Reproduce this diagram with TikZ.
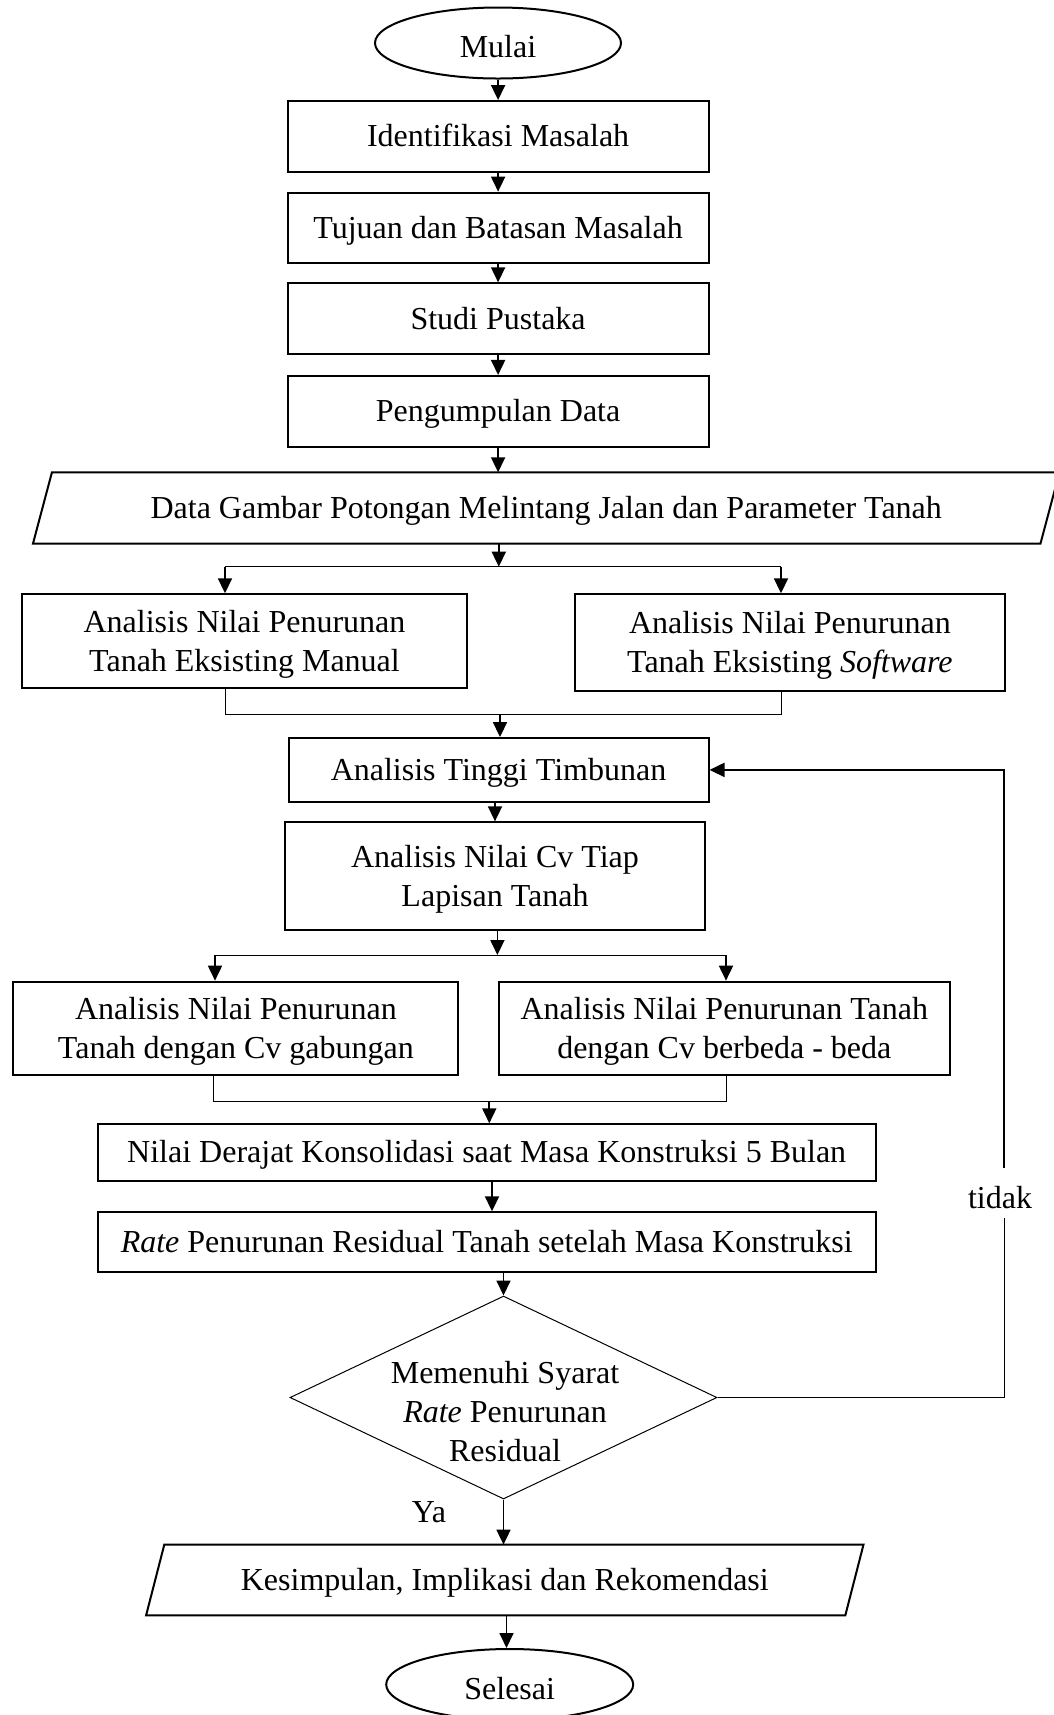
\documentclass[tikz,border=0pt]{standalone}
\usepackage{fontspec}
\setmainfont{Liberation Serif}
\usetikzlibrary{shapes.geometric,arrows.meta,calc}
\newcommand{\topst}{\rule{0pt}{13.8pt}}
\newcommand{\topel}{\rule{0pt}{18pt}}
\newcommand{\botst}{\rule[-3.5pt]{0pt}{3.5pt}}
\begin{document}
\begin{tikzpicture}[x=0.5pt,y=-0.5pt,
  font=\fontsize{16}{19.5}\selectfont,
  boxs/.style={draw, line width=1pt, rectangle, inner sep=0pt, align=center},
  para/.style={rectangle, inner sep=0pt, align=center},
  term/.style={draw, line width=1pt, ellipse, inner sep=0pt},
  decis/.style={draw, line width=0.5pt, diamond, inner sep=0pt},
  arr/.style={line width=0.9pt, -{Triangle[length=7.5pt,width=7pt]}},
  thinl/.style={line width=0.5pt},
  plline/.style={line width=1pt, line join=miter}
]
\useasboundingbox (0,0) rectangle (1054,1715);

% top chain
\node[term, minimum width=123pt, minimum height=35.5pt] (mulai) at (498,43) {\topel Mulai\botst};
\node[boxs, minimum width=210.4pt, minimum height=35.35pt] (id) at (498.1,136.4) {\topst Identifikasi Masalah\botst};
\node[boxs, minimum width=210.4pt, minimum height=35.35pt] (tuj) at (498.1,228) {\topst Tujuan dan Batasan Masalah\botst};
\node[boxs, minimum width=210.4pt, minimum height=35.35pt] (studi) at (498.1,318.7) {\topst Studi Pustaka\botst};
\node[boxs, minimum width=210.4pt, minimum height=35.35pt] (kump) at (498.1,411.3) {\topst Pengumpulan Data\botst};

\draw[arr] (mulai.south -| id.north) -- (id.north);
\draw[arr] (id.south) -- (tuj.north);
\draw[arr] (tuj.south) -- (studi.north);
\draw[arr] (studi.south) -- (kump.north);

% data parallelogram
\node[para, minimum width=503.35pt, minimum height=35.3pt] (data) at (546.2,508) {\topst Data Gambar Potongan Melintang Jalan dan Parameter Tanah\botst};
\draw[plline] ($(data.south west)+(-9.5,0)$) -- ($(data.north west)+(9.5,0)$) -- ($(data.north east)+(9.5,0)$) -- ($(data.south east)+(-9.5,0)$) -- cycle;
\draw[arr] (kump.south) -- (kump.south |- data.north);

% first branch
\coordinate (b1) at (498.8,566.7);
\coordinate (b1L) at (225,566.7);
\coordinate (b1R) at (781,566.7);
\node[boxs, minimum width=222.5pt, minimum height=47pt] (man) at (244.5,641.3) {\topst Analisis Nilai Penurunan\\Tanah Eksisting Manual\botst};
\node[boxs, minimum width=215.15pt, minimum height=48.35pt] (sw) at (789.9,642.65) {\topst Analisis Nilai Penurunan\\Tanah Eksisting \textit{Software}\botst};
\draw[arr] (data.south -| b1) -- (b1);
\draw[thinl] (b1L) -- (b1R);
\draw[arr] (b1L) -- (b1L |- man.north);
\draw[arr] (b1R) -- (b1R |- sw.north);

% merge 1
\node[boxs, minimum width=210pt, minimum height=31.85pt] (tinggi) at (498.5,769.9) {\topst Analisis Tinggi Timbunan\botst};
\coordinate (m1) at (500,714.3);
\coordinate (m1L) at (225,714.3);
\coordinate (m1R) at (781.7,714.3);
\draw[thinl] (m1L |- man.south) -- (m1L) -- (m1R) -- (m1R |- sw.south);
\draw[arr] (m1) -- (m1 |- tinggi.north);

\node[boxs, minimum width=210pt, minimum height=53.85pt] (cv) at (495,876.2) {\topst Analisis Nilai Cv Tiap\\Lapisan Tanah\botst};
\draw[arr] (cv.north |- tinggi.south) -- (cv.north);

% second branch
\coordinate (b2) at (497.4,955);
\coordinate (b2L) at (215,955);
\coordinate (b2R) at (726,955);
\node[boxs, minimum width=222.5pt, minimum height=46.65pt] (gab) at (235.9,1028.3) {\topst Analisis Nilai Penurunan\\Tanah dengan Cv gabungan\botst};
\node[boxs, minimum width=225.5pt, minimum height=46.65pt] (bed) at (724.3,1028.3) {\topst Analisis Nilai Penurunan Tanah\\dengan Cv berbeda - beda\botst};
\draw[arr] (b2 |- cv.south) -- (b2);
\draw[thinl] (b2L) -- (b2R);
\draw[arr] (b2L) -- (b2L |- gab.north);
\draw[arr] (b2R) -- (b2R |- bed.north);

% merge 2
\node[boxs, minimum width=389.2pt, minimum height=28.2pt] (nd) at (486.7,1152.5) {\topst Nilai Derajat Konsolidasi saat Masa Konstruksi 5 Bulan\botst};
\coordinate (m2) at (489.3,1101);
\coordinate (m2L) at (213.8,1101);
\coordinate (m2R) at (726,1101);
\draw[thinl] (m2L |- gab.south) -- (m2L) -- (m2R) -- (m2R |- bed.south);
\draw[arr] (m2) -- (m2 |- nd.north);

\node[boxs, minimum width=389.2pt, minimum height=30pt] (rate) at (486.7,1242.3) {\topst\textit{Rate} Penurunan Residual Tanah setelah Masa Konstruksi\botst};
\coordinate (a5) at (492,1196);
\draw[arr] (a5 |- nd.south) -- (a5 |- rate.north);

% decision
\node[decis, minimum width=213.5pt, minimum height=101.5pt] (dia) at (503.5,1397.5) {};
\node[align=center, inner sep=0pt] (diat) at (505,1412) {Memenuhi Syarat\\\textit{Rate} Penurunan\\Residual};
\draw[arr] (dia.north |- rate.south) -- (dia.north);

\node[anchor=base, inner sep=0pt] (ya) at (429,1522.7) {Ya};

% conclusion
\node[para, minimum width=349.2pt, minimum height=35pt] (kes) at (504.8,1580) {\topst Kesimpulan, Implikasi dan Rekomendasi\botst};
\draw[plline] ($(kes.south west)+(-9.1,0)$) -- ($(kes.north west)+(9.1,0)$) -- ($(kes.north east)+(9.1,0)$) -- ($(kes.south east)+(-9.1,0)$) -- cycle;
\draw[arr] (dia.south) -- (dia.south |- kes.north);

\node[term, minimum width=123.5pt, minimum height=35.5pt] (sel) at (509.7,1684.5) {\topel Selesai\botst};
\coordinate (a8) at (506.5,1630);
\draw[arr] (a8 |- kes.south) -- (a8 |- sel.north);

% feedback loop
\coordinate (fbx) at (1004.3,1000);
\node[anchor=base, text height=20pt, text depth=5pt, inner ysep=0pt, inner xsep=0pt] (tidak) at (1000,1208) {tidak};
\draw[thinl] (dia.east) -| (fbx |- tidak.south);
\draw[arr] (fbx |- tidak.north) |- (tinggi.east);
\end{tikzpicture}
\end{document}
